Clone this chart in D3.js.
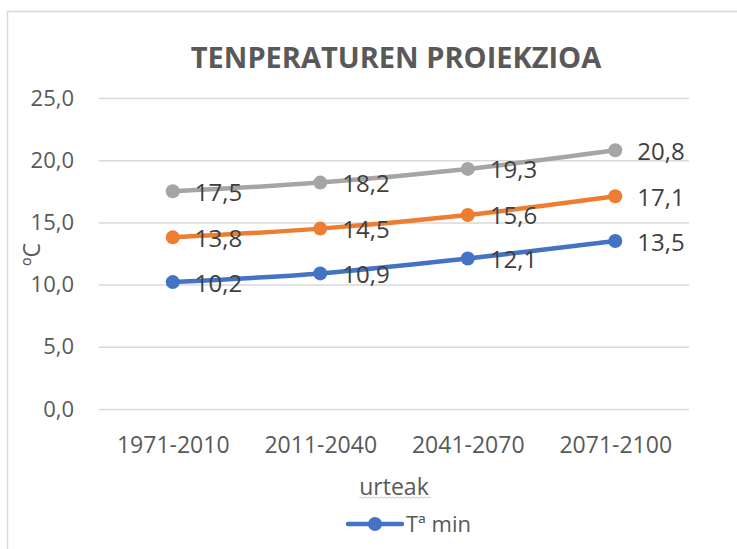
<!DOCTYPE html>
<html>
<head>
<meta charset="utf-8">
<script src="https://cdn.jsdelivr.net/npm/d3@7/dist/d3.min.js"></script>
<style>
  html, body { margin: 0; padding: 0; background: #fff; }
  svg { display: block; font-family: "Open Sans", "Noto Sans", sans-serif; }
</style>
</head>
<body>
<svg id="chart" width="737" height="549"></svg>
<script>
const title = "TENPERATUREN PROIEKZIOA";
const xTitle = "urteak";
const yTitle = "ºC";
const categories = ["1971-2010", "2011-2040", "2041-2070", "2071-2100"];
const tMin = [10.2, 10.9, 12.1, 13.5];
const tMean = [13.8, 14.5, 15.6, 17.1];
const tMax = [17.5, 18.2, 19.3, 20.8];
const seriesNames = ["Tª min", "Tª batez bestekoa", "Tª max"];
const seriesColors = ["#4472C4", "#ED7D31", "#A5A5A5"];
const yTicks = [0, 5, 10, 15, 20, 25];
const legendSeries = ["Tª min"];

const series = [
  { name: seriesNames[0], values: tMin, color: seriesColors[0] },
  { name: seriesNames[1], values: tMean, color: seriesColors[1] },
  { name: seriesNames[2], values: tMax, color: seriesColors[2] }
];

const locale = d3.formatLocale({ decimal: ",", thousands: ".", grouping: [3], currency: ["", " €"] });
const fmt = locale.format(".1f");

const svg = d3.select("#chart");
const plot = { left: 99, right: 689, top: 98, bottom: 409 };

const x = d3.scalePoint().domain(categories).range([plot.left, plot.right]).padding(0.5);
const y = d3.scaleLinear().domain([0, 25]).range([plot.bottom, plot.top]);

// chart area border
svg.append("rect")
  .attr("x", 7.5).attr("y", 11.5)
  .attr("width", 800).attr("height", 600)
  .attr("fill", "none").attr("stroke", "#D9D9D9").attr("stroke-width", 1.5);

// title
svg.append("text")
  .attr("x", 396).attr("y", 67.5)
  .attr("text-anchor", "middle")
  .attr("font-size", 29).attr("font-weight", 700)
  .attr("fill", "#595959")
  .text(title);

// y axis with gridlines
const yAxis = svg.append("g")
  .attr("transform", `translate(${plot.left},0)`)
  .call(d3.axisLeft(y).tickValues(yTicks).tickFormat(fmt)
    .tickSizeInner(-(plot.right - plot.left)).tickSizeOuter(0).tickPadding(25));
yAxis.select(".domain").remove();
yAxis.selectAll(".tick line").attr("stroke", "#D9D9D9").attr("stroke-width", 1.5);
yAxis.selectAll(".tick text").attr("fill", "#595959").attr("font-size", 22)
  .attr("font-family", "Open Sans, sans-serif");

// x axis
const xAxis = svg.append("g")
  .attr("transform", `translate(0,${plot.bottom})`)
  .call(d3.axisBottom(x).tickSize(0).tickPadding(28));
xAxis.select(".domain").remove();
xAxis.selectAll(".tick text").attr("fill", "#595959").attr("font-size", 23)
  .attr("font-family", "Open Sans, sans-serif");

// axis titles
svg.append("text")
  .attr("transform", `translate(40,${(plot.top + plot.bottom) / 2 + 1}) rotate(-90)`)
  .attr("text-anchor", "middle")
  .attr("font-size", 23).attr("fill", "#595959")
  .text(yTitle);

const xt = svg.append("text")
  .attr("x", 394).attr("y", 495)
  .attr("text-anchor", "middle")
  .attr("font-size", 23).attr("fill", "#595959")
  .text(xTitle);
// spell-check wavy underline
{
  const bb = xt.node().getBBox();
  let d = `M${bb.x},498`;
  for (let px = bb.x; px < bb.x + bb.width; px += 4) {
    d += ` L${px + 2},497 L${px + 4},498`;
  }
  svg.append("path").attr("d", d).attr("fill", "none")
    .attr("stroke", "#F4A6A6").attr("stroke-width", 0.8);
}

// lines
const line = d3.line()
  .x((d, i) => x(categories[i]))
  .y(d => y(d))
  .curve(d3.curveCatmullRom.alpha(0.5));

const sg = svg.append("g");
series.forEach(s => {
  sg.append("path")
    .attr("d", line(s.values))
    .attr("fill", "none")
    .attr("stroke", s.color)
    .attr("stroke-width", 4.5)
    .attr("stroke-linecap", "round");
  sg.selectAll(null).data(s.values).enter().append("circle")
    .attr("cx", (d, i) => x(categories[i]))
    .attr("cy", d => y(d))
    .attr("r", 7)
    .attr("fill", s.color);
});

// data labels
series.forEach(s => {
  svg.append("g").selectAll("text").data(s.values).enter().append("text")
    .attr("x", (d, i) => x(categories[i]) + 22)
    .attr("y", d => y(d) + 9.5)
    .attr("font-size", 24)
    .attr("fill", "#404040")
    .text(d => fmt(d));
});

// legend
const lg = svg.append("g");
legendSeries.forEach(name => {
  const s = series.find(t => t.name === name);
  lg.append("line").attr("x1", 348).attr("x2", 402).attr("y1", 524).attr("y2", 524)
    .attr("stroke", s.color).attr("stroke-width", 4.5).attr("stroke-linecap", "round");
  lg.append("circle").attr("cx", 375).attr("cy", 524).attr("r", 7).attr("fill", s.color);
  lg.append("text").attr("x", 406).attr("y", 532)
    .attr("font-size", 22).attr("fill", "#595959").text(s.name);
});
</script>
</body>
</html>
